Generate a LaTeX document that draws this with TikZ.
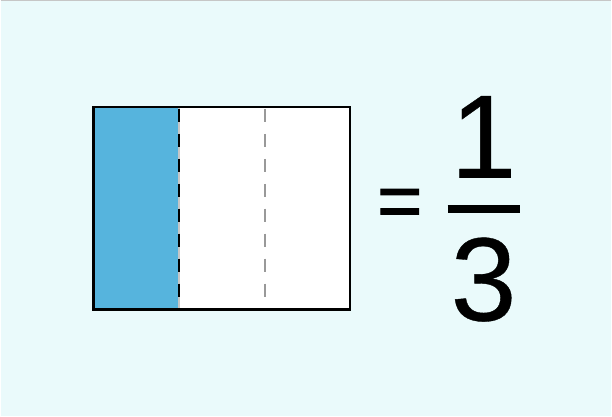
\documentclass[tikz,border=0pt]{standalone}
\usepackage{fontspec}
\setmainfont{Liberation Sans}
\definecolor{bgcyan}{HTML}{EAFAFB}
\definecolor{partblue}{HTML}{56B4DD}
\definecolor{cutgray}{HTML}{999999}

\begin{document}
\begin{tikzpicture}[x=1pt, y=1pt,
    outline/.style={draw=black, line width=2.5pt},
    cut/.style={line width=2pt, dash pattern=on 13pt off 12pt},
    digit/.style={font=\fontsize{119}{119}\selectfont\addfontfeature{FakeBold=0.3}, inner sep=0pt, anchor=base}
]
    % background
    \fill[bgcyan] (0,0) rectangle (612,417);
    \draw[gray!45, line width=1.5pt] (0,416.5) -- (612,416.5);

    % whole split in three, one part shaded
    \fill[partblue] (93,107) rectangle (179,310);
    \fill[white] (179,107) rectangle (350,310);
    \draw[gray!45, line width=2pt] (179,310) -- (179,107);
    \draw[cut, black] (179,308) -- (179,107);
    \draw[cut, cutgray] (265,308) -- (265,107);
    \draw[outline] (93,107) rectangle (350,310);

    % = 1/3
    \node[font=\fontsize{78}{78}\selectfont\addfontfeature{FakeBold=1.5}, inner sep=0pt] (eq) at (400,208.5) {=};
    \node[digit] (num) at (484,239) {1};
    \node[digit] (den) at (484,96) {3};
    \draw[line width=8pt] (448,208) -- (521,208);
\end{tikzpicture}
\end{document}
